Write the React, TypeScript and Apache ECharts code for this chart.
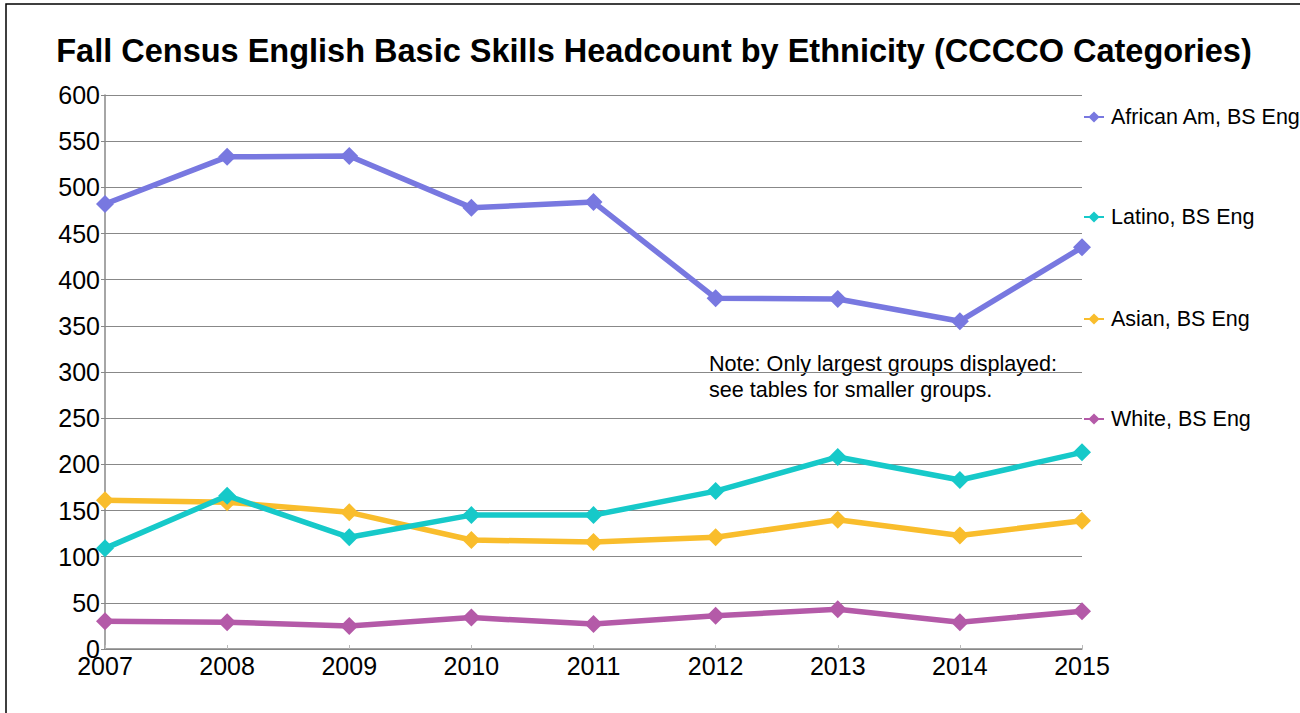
import React, { useEffect, useRef } from "react";
import * as echarts from "echarts";

const years = ["2007", "2008", "2009", "2010", "2011", "2012", "2013", "2014", "2015"];
const africanAm = [482, 533, 534, 478, 484, 380, 379, 355, 435];
const latino = [109, 166, 121, 145, 145, 171, 208, 183, 213];
const asian = [161, 159, 148, 118, 116, 121, 140, 123, 139];
const white = [30, 29, 25, 34, 27, 36, 43, 29, 41];

const seriesNames = ["African Am, BS Eng", "Latino, BS Eng", "Asian, BS Eng", "White, BS Eng"];
const seriesColors = ["#7878e0", "#16c9c9", "#f9bd2c", "#b45aa8"];
const seriesData = [africanAm, latino, asian, white];
const legendTops = [117, 217, 319, 419];

const FONT = "'Liberation Sans', Arial, sans-serif";

export default function App() {
  const ref = useRef<HTMLDivElement>(null);
  useEffect(() => {
    if (!ref.current) return;
    const chart = echarts.init(ref.current, null, { renderer: "svg" });
    chart.setOption({
      animation: false,
      backgroundColor: "#ffffff",
      textStyle: { fontFamily: FONT },
      title: {
        text: "Fall Census English Basic Skills Headcount by Ethnicity (CCCCO Categories)",
        left: 649,
        textAlign: "center",
        top: 29,
        textStyle: { fontSize: 32.5, fontWeight: "bold", color: "#000", fontFamily: FONT },
      },
      grid: { left: 105, right: 218, top: 95, bottom: 64, containLabel: false },
      legend: seriesNames.map((name, i) => ({
        data: [name],
        orient: "vertical",
        left: 1083,
        top: legendTops[i] - 11,
        itemWidth: 20,
        itemHeight: 14,
        itemGap: 0,
        textStyle: { fontSize: 21.5, color: "#000", fontFamily: FONT, padding: [0, 0, 0, 2] },
        padding: 0,
        selectedMode: false,
      })),
      xAxis: {
        type: "category",
        data: years,
        boundaryGap: false,
        axisLine: { lineStyle: { color: "#888", width: 1.5 } },
        axisTick: { show: true, inside: true, length: 4, lineStyle: { color: "#bbb" } },
        axisLabel: { fontSize: 25, color: "#000", margin: 4, fontFamily: FONT },
      },
      yAxis: {
        type: "value",
        min: 0,
        max: 600,
        interval: 50,
        axisLine: { show: true, lineStyle: { color: "#888", width: 1.5 } },
        axisTick: { show: true, length: 4, lineStyle: { color: "#888" } },
        axisLabel: { fontSize: 25, color: "#000", margin: 5, fontFamily: FONT },
        splitLine: { show: true, lineStyle: { color: "#888", width: 1 } },
      },
      series: seriesNames.map((name, i) => ({
        name,
        type: "line",
        data: seriesData[i],
        symbol: "diamond",
        symbolSize: 18,
        showSymbol: true,
        lineStyle: { width: 5.5, color: seriesColors[i] },
        itemStyle: { color: seriesColors[i] },
        z: 10 - i,
      })),
      graphic: [
        {
          type: "rect",
          shape: { x: 6, y: 4, width: 1400, height: 800 },
          style: { fill: "none", stroke: "#000", lineWidth: 1.5 },
          silent: true,
        },
        {
          type: "text",
          x: 709,
          y: 350,
          style: {
            text: "Note: Only largest groups displayed:\nsee tables for smaller groups.",
            font: `21.6px ${FONT}`,
            lineHeight: 26,
            fill: "#000",
          },
        },
      ],
    });
    return () => chart.dispose();
  }, []);
  return (
    <div
      ref={ref}
      style={{ position: "fixed", left: 0, top: 0, width: 1300, height: 713 }}
    />
  );
}
